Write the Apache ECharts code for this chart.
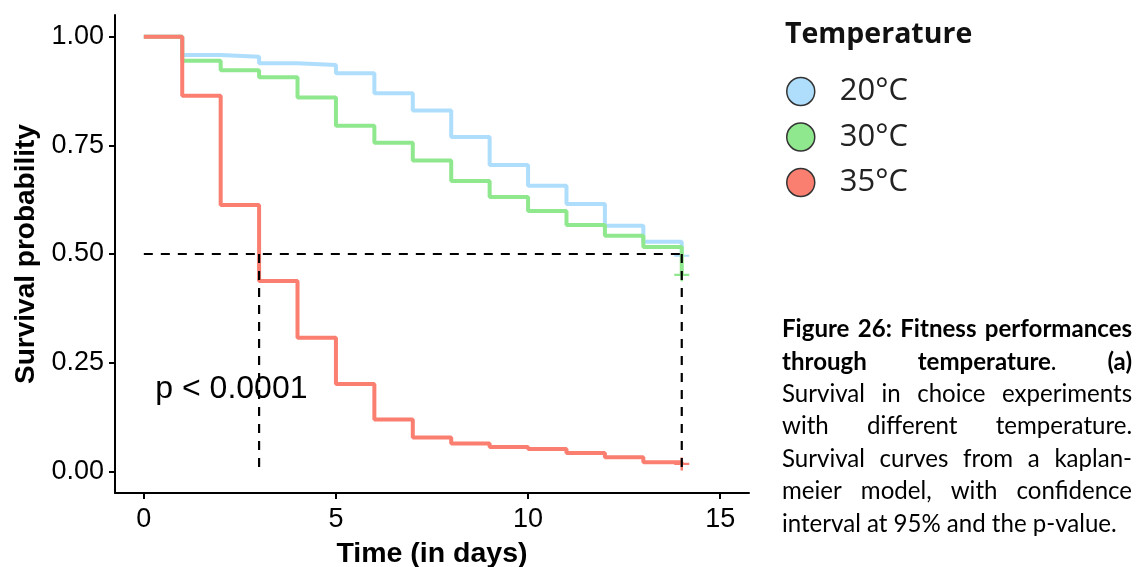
<!DOCTYPE html>
<html><head><meta charset="utf-8">
<script src="https://cdn.jsdelivr.net/npm/echarts@6/dist/echarts.min.js"></script>
<style>html,body{margin:0;padding:0;background:#fff}#chart{width:1143px;height:567px}</style>
</head><body><div id="chart"></div>
<script>
// ---------- data ----------
const strata = ['20°C', '30°C', '35°C'];
const times = [0, 1, 2, 3, 4, 5, 6, 7, 8, 9, 10, 11, 12, 13, 14];
const surv20 = [1, 0.958, 0.954, 0.939, 0.935, 0.916, 0.870, 0.830, 0.769, 0.705, 0.657, 0.615, 0.565, 0.528, 0.496];
const surv30 = [1, 0.945, 0.923, 0.907, 0.860, 0.795, 0.756, 0.715, 0.668, 0.631, 0.599, 0.567, 0.542, 0.516, 0.452];
const surv35 = [1, 0.864, 0.613, 0.438, 0.307, 0.201, 0.119, 0.078, 0.064, 0.056, 0.051, 0.042, 0.032, 0.021, 0.017];
const censorTimes = [14];
const medianTimes = [3, 14];
const medianLevel = 0.5;
const xTicks = [0, 5, 10, 15];
const yTicks = [0, 0.25, 0.5, 0.75, 1];
const pValueText = 'p < 0.0001';
const pValuePos = [0.3, 0.19];
const legendTitle = 'Temperature';
const xTitle = 'Time (in days)';
const yTitle = 'Survival probability';
const captionLines = [
  [[['Figure', true]], [['26:', true]], [['Fitness', true]], [['performances', true]]],
  [[['through', true]], [['temperature', true], ['.', false]], [['(a)', true]]],
  [[['Survival', false]], [['in', false]], [['choice', false]], [['experiments', false]]],
  [[['with', false]], [['different', false]], [['temperature.', false]]],
  [[['Survival', false]], [['curves', false]], [['from', false]], [['a', false]], [['kaplan-', false]]],
  [[['meier', false]], [['model,', false]], [['with', false]], [['confidence', false]]],
  [[['interval', false]], [['at', false]], [['95%', false]], [['and', false]], [['the', false]], [['p-value.', false]]]
];

// ---------- styles ----------
const colors = ['#AEDEFC', '#90E88E', '#FA7F70'];
const survs = [surv20, surv30, surv35];
const axisFont = 'Liberation Sans';
const plusPath = 'path://M6.25,0H8.75V6.25H15V8.75H8.75V15H6.25V8.75H0V6.25H6.25Z';

const chart = echarts.init(document.getElementById('chart'), null, {renderer: 'canvas'});

const series = [];
strata.forEach((name, k) => {
  series.push({
    type: 'line', name: name, step: 'end',
    data: times.map((t, i) => [t, survs[k][i]]),
    symbol: 'none', showSymbol: false,
    lineStyle: {width: 4, color: colors[k], opacity: 1},
    itemStyle: {color: colors[k]},
    z: 2 + k, silent: true
  });
});
strata.forEach((name, k) => {
  series.push({
    type: 'scatter', name: name + ' censored',
    data: censorTimes.map(t => [t, survs[k][times.indexOf(t)]]),
    symbol: plusPath, symbolSize: [15, 13], symbolKeepAspect: false,
    itemStyle: {color: colors[k], opacity: 1},
    z: 2 + k, silent: true
  });
});
const dashStyle = {color: '#000', width: 2.2, type: [9, 8]};
series.push({
  type: 'line', name: 'median-h',
  data: [[0, medianLevel], [Math.max(...medianTimes), medianLevel]],
  symbol: 'none', lineStyle: dashStyle, z: 10, silent: true
});
medianTimes.forEach((t, i) => {
  series.push({
    type: 'line', name: 'median-v' + i,
    data: [[t, medianLevel], [t, 0]],
    symbol: 'none', lineStyle: dashStyle, z: 10, silent: true
  });
});
series.push({
  type: 'scatter', name: 'pvalue',
  data: [pValuePos], symbolSize: 1, silent: true,
  itemStyle: {opacity: 1, color: 'rgba(0,0,0,0)'},
  label: {show: true, position: 'inside', align: 'left', verticalAlign: 'middle',
    formatter: pValueText, fontSize: 32, color: '#000', opacity: 1, fontFamily: axisFont}
});

chart.setOption({
  animation: false,
  backgroundColor: '#fff',
  grid: {left: 115, right: 1143 - 749, top: 15, bottom: 567 - 493, containLabel: false, outerBoundsMode: 'none'},
  xAxis: {
    type: 'value', min: -0.75, max: 15.75,
    axisLine: {show: true, onZero: false, lineStyle: {color: '#000', width: 2}},
    axisTick: {show: true, length: 6, customValues: xTicks, lineStyle: {color: '#000', width: 2}},
    axisLabel: {customValues: xTicks, fontSize: 27, color: '#000', fontFamily: axisFont, margin: 13},
    splitLine: {show: false},
    name: xTitle, nameLocation: 'middle', nameGap: 47,
    nameTextStyle: {fontSize: 28.5, fontWeight: 'bold', color: '#000', fontFamily: axisFont}
  },
  yAxis: {
    type: 'value', min: -0.05, max: 1.05,
    axisLine: {show: true, onZero: false, lineStyle: {color: '#000', width: 2}},
    axisTick: {show: true, length: 6, customValues: yTicks, lineStyle: {color: '#000', width: 2}},
    axisLabel: {customValues: yTicks, fontSize: 27, color: '#000', fontFamily: axisFont, margin: 11,
      formatter: v => v.toFixed(2)},
    splitLine: {show: false},
    name: yTitle, nameLocation: 'middle', nameGap: 74,
    nameTextStyle: {fontSize: 28, fontWeight: 'bold', color: '#000', fontFamily: axisFont}
  },
  legend: {
    data: strata, orient: 'vertical', left: 781, top: 71,
    itemWidth: 68, itemHeight: 28, itemGap: 14.5, icon: 'circle', selectedMode: false,
    itemStyle: {borderColor: '#333', borderWidth: 1.5},
    textStyle: {fontSize: 31, color: '#222', fontFamily: 'Open Sans'}
  },
  title: {
    text: legendTitle, left: 780, top: 15,
    textStyle: {fontSize: 28.5, fontWeight: 'bold', color: '#111', fontFamily: 'Open Sans'}
  },
  series: series
});

// ---------- justified caption ----------
(function () {
  const capFont = 'Lato';
  const left = 782, right = 1132, width = right - left;
  const baseline0 = 338, lineGap = 32.4;
  const ctx = document.createElement('canvas').getContext('2d');
  const measure = (txt, bold, fs) => { ctx.font = (bold ? 'bold ' : '') + fs + 'px ' + capFont; return ctx.measureText(txt).width; };
  const wordW = (w, fs) => w.reduce((s, r) => s + measure(r[0], r[1], fs), 0);
  const lineNatural = (ln, fs) => ln.reduce((s, w) => s + wordW(w, fs), 0) + (ln.length - 1) * measure(' ', false, fs);
  let fs = 20 * 335 / lineNatural(captionLines[captionLines.length - 1], 20);
  captionLines.slice(0, -1).forEach(ln => { const n = lineNatural(ln, fs); if (n > width) fs *= width / n; });
  const elements = [];
  captionLines.forEach((ln, li) => {
    const last = li === captionLines.length - 1;
    const total = ln.reduce((s, w) => s + wordW(w, fs), 0);
    const gap = last ? measure(' ', false, fs) : (width - total) / (ln.length - 1);
    let x = left;
    const y = baseline0 + li * lineGap - 0.36 * fs;
    ln.forEach(w => {
      w.forEach(r => {
        elements.push({type: 'text', x: x, y: y, silent: true,
          style: {text: r[0], font: (r[1] ? 'bold ' : '') + fs.toFixed(2) + 'px ' + capFont,
            fill: '#000', align: 'left', verticalAlign: 'middle'}});
        x += measure(r[0], r[1], fs);
      });
      x += gap;
    });
  });
  chart.setOption({graphic: {elements: elements}});
})();
</script>
</body></html>
